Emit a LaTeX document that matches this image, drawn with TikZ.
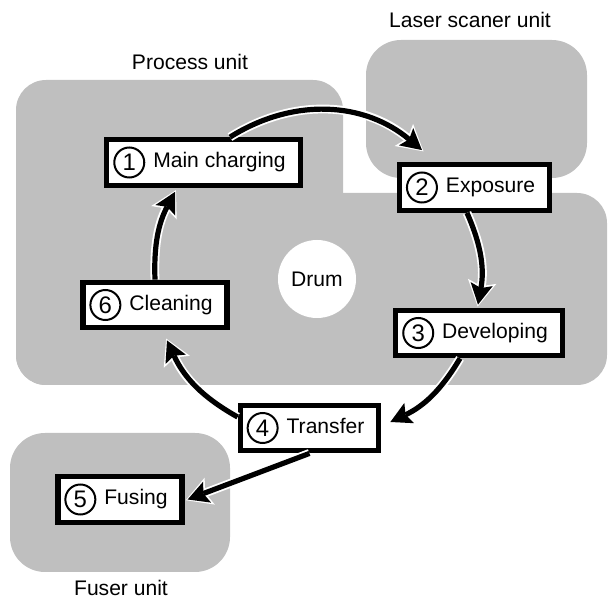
\documentclass[tikz,border=0pt]{standalone}
\usepackage{fontspec}
\setmainfont{Liberation Sans}
\usetikzlibrary{arrows.meta,positioning}
\tikzset{
    unitzone/.style={fill=black!25},
    unitlabel/.style={inner sep=0pt},
    drumdisc/.style={circle,fill=white,minimum size=19.5mm,inner sep=0pt},
    stepbox/.style={rectangle,draw,fill=white,line width=1.3mm,minimum height=11.4mm,inner xsep=3.6mm,inner ysep=0pt,text height=11pt,text depth=3.5pt},
    numring/.style={circle,draw,line width=0.5mm,minimum size=7.5mm,inner sep=0pt,font=\fontsize{17}{18}\selectfont,text height=12pt,text depth=0pt},
    cycleline/.style={line width=1.3mm,-{Stealth[length=5.2mm,width=5.6mm,inset=1mm,line width=0pt]},
        preaction={draw=white,line width=2.2mm,shorten >=-0.5mm,-{Stealth[length=6.4mm,width=7.2mm,inset=1.2mm,line width=0pt]}}}
}
\begin{document}
\begin{tikzpicture}[x=0.25mm,y=0.25mm,font=\fontsize{15}{18}\selectfont]
            \useasboundingbox (0,0) rectangle (608,600);
            \fill[unitzone,rounded corners=7.5mm] (16,215) rectangle (343,520);
            \fill[unitzone,rounded corners=7.5mm] (16,215) rectangle (607,407);
            \fill[unitzone,rounded corners=8.75mm] (366,422) rectangle (587,560);
            \fill[unitzone,rounded corners=8.75mm] (10,28) rectangle (230,167);
            \node[unitlabel] (proclabel) at (190,538) {Process unit};
            \node[unitlabel] (laserlabel) at (470,580) {Laser scaner unit};
            \node[unitlabel] (fuserlabel) at (121,12) {Fuser unit};
            \node[drumdisc] (drum) at (317,321) {Drum};
            \node[stepbox] (charge) at (203.5,437.5) {\hspace*{8mm}Main charging};
            \node[stepbox] (exposure) at (474.5,412.5) {\hspace*{8mm}Exposure};
            \node[stepbox] (develop) at (479,267) {\hspace*{8mm}Developing};
            \node[stepbox] (transfer) at (309.5,172) {\hspace*{8mm}Transfer};
            \node[stepbox] (fusing) at (120,100.5) {\hspace*{8mm}Fusing};
            \node[stepbox] (cleaning) at (155,295) {\hspace*{8mm}Cleaning};
            \node[numring,right=2.25mm of charge.west] (num1) {1};
            \node[numring,right=2.25mm of exposure.west] (num2) {2};
            \node[numring,right=2.25mm of develop.west] (num3) {3};
            \node[numring,right=2.25mm of transfer.west] (num4) {4};
            \node[numring,right=2.25mm of fusing.west] (num5) {5};
            \node[numring,right=2.25mm of cleaning.west] (num6) {6};
            \draw[cycleline] ([shift={(26.5,0)}]charge.north) to[bend left=36] ([shift={(-52.5,12)}]exposure.north);
            \draw[cycleline] ([shift={(-7.5,0)}]exposure.south) to[bend left=17] ([shift={(-1,3)}]develop.north);
            \draw[cycleline] ([shift={(-19,0)}]develop.south) to[bend left=17] ([shift={(9,6)}]transfer.east);
            \draw[cycleline] ([shift={(0,11)}]transfer.west) to[bend left=18] ([shift={(12,-10)}]cleaning.south);
            \draw[cycleline] (cleaning.north) to[bend left=15] ([shift={(-28.5,-4)}]charge.south);
            \draw[cycleline] (transfer.south) -- ([shift={(3,0)}]fusing.east);
        \end{tikzpicture}
\end{document}
